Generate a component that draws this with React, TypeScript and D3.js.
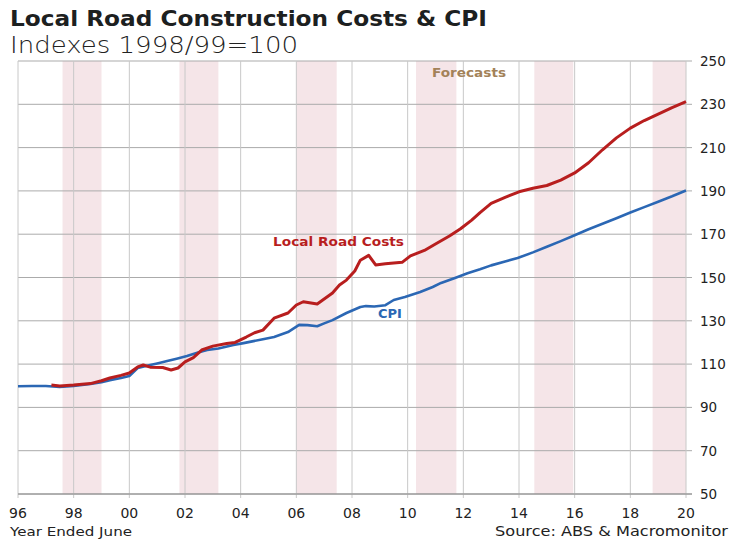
import React from "react";
import * as d3 from "d3";

// Local road construction costs (year ended June, decimal year -> index)
const costYears = [
  1997.2, 1997.5, 1998.0, 1998.6, 1999.0, 1999.3, 1999.7, 2000.0, 2000.3, 2000.5,
  2000.75, 2001.2, 2001.5, 2001.75, 2002.0, 2002.3, 2002.6, 2003.0, 2003.5, 2003.8,
  2004.2, 2004.5, 2004.8, 2005.2, 2005.7, 2006.0, 2006.25, 2006.75, 2007.3, 2007.55,
  2007.8, 2008.1, 2008.3, 2008.6, 2008.85, 2009.2, 2009.8, 2010.1, 2010.6, 2011.0,
  2011.5, 2011.9, 2012.3, 2012.6, 2013.0, 2013.5, 2014.0, 2014.5, 2015.0, 2015.5,
  2016.0, 2016.5, 2017.0, 2017.5, 2018.0, 2018.5, 2019.0, 2019.5, 2020.0,
];
const costValues = [
  100.3, 99.9, 100.3, 101.0, 102.3, 103.6, 104.8, 105.9, 108.7, 109.6,
  108.6, 108.4, 107.3, 108.2, 111.0, 113.0, 116.5, 118.3, 119.5, 120.0,
  122.5, 124.5, 125.7, 131.2, 133.6, 137.3, 138.8, 137.8, 142.8, 146.5,
  148.8, 153.0, 158.0, 160.2, 155.8, 156.3, 157.0, 160.0, 162.5, 165.5,
  169.2, 172.5, 176.5, 180.0, 184.2, 187.0, 189.6, 191.2, 192.5, 195.0,
  198.3, 203.0, 209.0, 214.5, 219.0, 222.5, 225.5, 228.5, 231.2,
];

// CPI
const cpiYears = [
  1996.0, 1996.5, 1997.0, 1997.5, 1998.0, 1998.6, 1999.0, 1999.3, 1999.7, 2000.0,
  2000.3, 2000.75, 2001.0, 2001.36, 2001.7, 2002.07, 2002.5, 2002.8, 2003.2, 2003.74,
  2004.1, 2004.46, 2004.8, 2005.2, 2005.7, 2006.1, 2006.4, 2006.75, 2007.0, 2007.3,
  2007.8, 2008.3, 2008.5, 2008.8, 2009.2, 2009.5, 2009.9, 2010.45, 2010.9, 2011.2,
  2011.7, 2012.15, 2012.6, 2013.0, 2013.5, 2013.95, 2014.5, 2015.0, 2015.5, 2016.0,
  2016.5, 2017.0, 2017.5, 2018.0, 2018.5, 2019.0, 2019.5, 2020.0,
];
const cpiValues = [
  99.8, 99.9, 99.9, 99.4, 99.9, 100.8, 101.6, 102.6, 103.6, 104.5,
  108.2, 109.6, 110.3, 111.4, 112.5, 113.7, 115.5, 116.5, 117.2, 118.8,
  119.7, 120.6, 121.5, 122.5, 124.8, 128.1, 128.0, 127.5, 128.8, 130.3,
  133.6, 136.4, 136.8, 136.6, 137.2, 139.6, 141.0, 143.3, 145.6, 147.5,
  149.8, 152.0, 153.8, 155.6, 157.4, 159.0, 161.6, 164.2, 166.8, 169.5,
  172.3, 174.8, 177.4, 180.0, 182.5, 185.0, 187.5, 190.2,
];

// shaded bands (start, end years)
const bandStarts = [1997.6, 2001.8, 2006.0, 2010.3, 2014.55, 2018.8];
const bandEnds = [1999.0, 2003.2, 2007.45, 2011.75, 2015.95, 2020.0];

const xTicks = [1996, 1998, 2000, 2002, 2004, 2006, 2008, 2010, 2012, 2014, 2016, 2018, 2020];
const yTicks = [50, 70, 90, 110, 130, 150, 170, 190, 210, 230, 250];

const width = 734;
const height = 539;
const font = "'DejaVu Sans', sans-serif";

export default function App() {
  const x = d3.scaleLinear().domain([1996, 2020]).range([18, 686]);
  const y = d3.scaleLinear().domain([50, 250]).range([494, 61]);

  const line = d3
    .line<[number, number]>()
    .x((d) => x(d[0]))
    .y((d) => y(d[1]));

  const costPts = costYears.map((yr, i) => [yr, costValues[i]] as [number, number]);
  const cpiPts = cpiYears.map((yr, i) => [yr, cpiValues[i]] as [number, number]);

  return (
    <svg
      width={width}
      height={height}
      style={{ position: "absolute", left: 0, top: 0, background: "#fff" }}
      fontFamily={font}
    >
      {/* title */}
      <text x={10} y={26} fontSize={21} fontWeight="bold" fill="#1c2020" textLength={477} lengthAdjust="spacingAndGlyphs">
        Local Road Construction Costs &amp; CPI
      </text>
      <text x={10} y={53} fontSize={23} fontWeight={300} fill="#222" textLength={288} lengthAdjust="spacingAndGlyphs">
        Indexes 1998/99=100
      </text>

      {/* shaded bands */}
      {bandStarts.map((s, i) => (
        <rect
          key={i}
          x={x(s)}
          y={y(250)}
          width={x(bandEnds[i]) - x(s)}
          height={y(50) - y(250)}
          fill="#f5e5e8"
        />
      ))}

      {/* horizontal grid */}
      {yTicks.map((t) => (
        <g key={t}>
          <line x1={x(1996)} x2={x(2020) + 6} y1={y(t)} y2={y(t)} stroke="#ababab" strokeWidth={1} />
          <text x={700} y={y(t) + 5} fontSize={13.5} fill="#222">
            {t}
          </text>
        </g>
      ))}

      {/* vertical grid */}
      {xTicks.map((t) => (
        <g key={t}>
          <line x1={x(t)} x2={x(t)} y1={y(250)} y2={y(50) + 4} stroke="#c8c8c8" strokeWidth={1} />
          <text x={x(t)} y={518} fontSize={14} textAnchor="middle" fill="#222">
            {d3.format("02d")(t % 100)}
          </text>
        </g>
      ))}
      <line x1={x(1996)} x2={x(2020) + 6} y1={y(50)} y2={y(50)} stroke="#8a8a8a" strokeWidth={1} />

      {/* series */}
      <path d={line(cpiPts) ?? ""} fill="none" stroke="#2b67b4" strokeWidth={2.6} strokeLinejoin="round" />
      <path d={line(costPts) ?? ""} fill="none" stroke="#b81e1e" strokeWidth={3} strokeLinejoin="round" />

      {/* labels */}
      <text x={432} y={77} fontSize={13} fontWeight="bold" fill="#a38259" textLength={74} lengthAdjust="spacingAndGlyphs">
        Forecasts
      </text>
      <text x={273} y={246} fontSize={13} fontWeight="bold" fill="#b81e1e" textLength={131} lengthAdjust="spacingAndGlyphs">
        Local Road Costs
      </text>
      <text x={378} y={318} fontSize={13} fontWeight="bold" fill="#2b67b4">
        CPI
      </text>

      <text x={10} y={536} fontSize={13} fill="#222" textLength={122} lengthAdjust="spacingAndGlyphs">
        Year Ended June
      </text>
      <text x={495} y={536} fontSize={13.5} fill="#222" textLength={233} lengthAdjust="spacingAndGlyphs">
        Source: ABS &amp; Macromonitor
      </text>
    </svg>
  );
}
